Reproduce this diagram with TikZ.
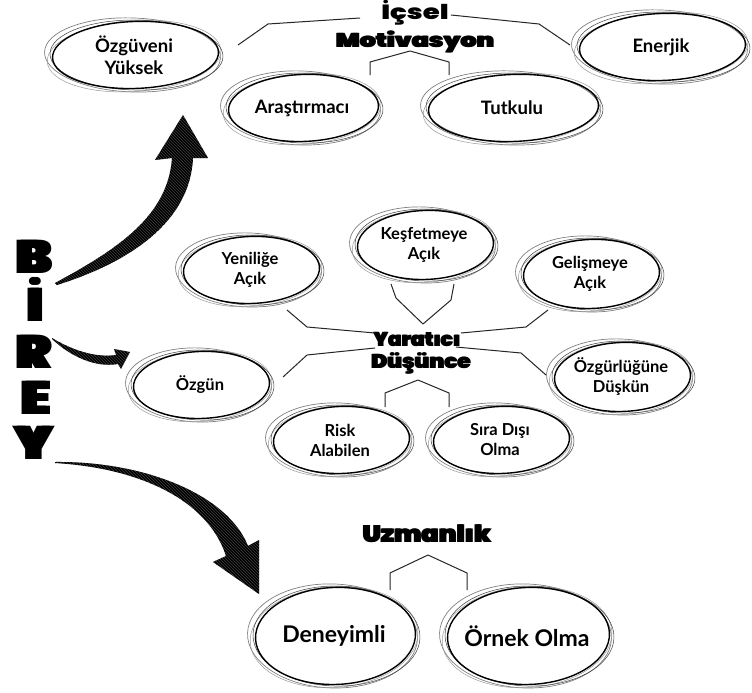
\documentclass[tikz,border=0pt]{standalone}
\usepackage{fontspec}
\setmainfont{Lato}
\newfontfamily\heavyfont{Poppins Black}
\usetikzlibrary{patterns}
\newcommand\fat[2]{\leavevmode\rlap{#2}\kern#1\relax #2}
\tikzset{
  etext/.style={align=center, inner sep=0pt, text=black},
  fa/.style={font=\bfseries\fontsize{18.5}{22}\selectfont},
  fb/.style={font=\bfseries\fontsize{16.5}{20}\selectfont},
  fc/.style={font=\bfseries\fontsize{23}{27}\selectfont},
  ttl/.style={anchor=base, inner sep=0pt, font=\heavyfont\fontsize{20}{24}\selectfont},
  letter/.style={anchor=base, inner sep=0pt, xscale=1.1, font=\heavyfont\fontsize{47}{50}\selectfont},
  conn/.style={line width=1pt, black!85, line join=round},
  arrowfill/.style={fill=black, postaction={pattern=north west lines, pattern color=white!25!black}}
}
\newcommand\skell[7]{%
  \node[etext,#7] (#1) at (#2,#3) {#6};
  \draw[line width=0.7pt, black!50, rotate around={-2:(#1.center)}] ([xshift=-1.5pt]#1.center) ellipse [x radius=#4pt, y radius=#5pt];
  \draw[line width=0.5pt, black!40, rotate around={4:(#1.center)}] ([yshift=-1pt]#1.center) ellipse [x radius=#4pt-1pt, y radius=#5pt-1.5pt];
  \draw[line width=0.5pt, black!75, rotate around={-1:(#1.center)}] ([xshift=2.5pt]#1.center) ellipse [x radius=#4pt-1.5pt, y radius=#5pt-2pt];
  \draw[line width=1.4pt, rotate around={2:(#1.center)}] ([xshift=1.5pt]#1.center) ellipse [x radius=#4pt-5pt, y radius=#5pt-3.5pt];
}
\begin{document}
\begin{tikzpicture}[x=1pt,y=-1pt]
\useasboundingbox (0,0) rectangle (752,693);
\fill[white] (0,0) rectangle (752,693);

% BIREY
\node[letter] (lb) at (34,273) {\fat{4pt}{B}};
\node[letter] (li) at (35,321) {\fat{3pt}{İ}};
\node[letter] (lr) at (34,368) {\fat{4pt}{R}};
\node[letter] (le) at (36,414) {\fat{4pt}{E}};
\node[letter] (ly) at (34,459) {\fat{4pt}{Y}};

% Icsel Motivasyon
\node[ttl, font=\heavyfont\fontsize{20.5}{24}\selectfont, xscale=1.34] (icsel) at (415,20) {İçsel};
\node[ttl, font=\heavyfont\fontsize{20}{24}\selectfont, xscale=1.26] (motiv) at (415,48) {\fat{1.2pt}{Motivasyon}};
\skell{ozguv}{134}{55}{88}{37}{Özgüveni\\Yüksek}{fa}
\skell{arast}{302}{108}{80}{37}{Araştırmacı}{fa}
\skell{tutku}{512}{108}{90}{37}{Tutkulu}{fa}
\skell{enerj}{661}{47}{88}{37}{Enerjik}{fa}
\draw[conn] (238,45) -- (268,24) -- (360,18);
\draw[conn] (451,15) -- (539,24) -- (570,45);
\draw[conn] (370,75) -- (370,62) -- (410,51) -- (449,62) -- (449,75);

% Yaratici Dusunce
\node[ttl, xscale=1.0] (yarat) at (417,346) {\fat{1.2pt}{Yaratıcı}};
\node[ttl, xscale=1.07] (dusun) at (421,368) {\fat{1.2pt}{Düşünce}};
\skell{yenil}{250}{270}{73}{37}{Yeniliğe\\Açık}{fb}
\skell{kesfe}{424}{245}{73}{38}{Keşfetmeye\\Açık}{fb}
\skell{gelis}{590}{274}{73}{38}{Gelişmeye\\Açık}{fb}
\skell{ozgun}{200}{385}{73}{37}{Özgün}{fb}
\skell{ozgur}{621}{377}{73}{38}{Özgürlüğüne\\Düşkün}{fb}
\skell{risk}{340}{440}{73}{37}{Risk\\Alabilen}{fb}
\skell{sira}{500}{440}{73}{37}{Sıra Dışı\\Olma}{fb}
\draw[conn] (391,284) -- (396,298) -- (423,324) -- (451,300) -- (454,284);
\draw[conn] (287,310) -- (307,327) -- (375,333);
\draw[conn] (283,377) -- (307,355) -- (375,348);
\draw[conn] (461,333) -- (526,327) -- (548,310);
\draw[conn] (456,347) -- (521,353) -- (546,375);
\draw[conn] (385,407) -- (385,393) -- (418,380) -- (449,393) -- (449,407);

% Uzmanlik
\node[ttl, font=\heavyfont\fontsize{24}{28}\selectfont, xscale=1.06] (uzman) at (427,542) {\fat{1.4pt}{Uzmanlık}};
\skell{deney}{334}{636}{85}{52}{Deneyimli}{fc}
\skell{ornek}{527}{636}{86}{52}{Örnek Olma}{fc}
\draw[conn] (390,590) -- (390,573) -- (428,555) -- (467,573) -- (467,590);

% arrows
\fill[arrowfill] (55,283) .. controls (120,248) and (168,215) .. (172,158) -- (155,160) -- (183,115) -- (208,158) -- (193,158) .. controls (190,222) and (130,262) .. (57,285) -- cycle;
\fill[arrowfill] (52,338) .. controls (72,350) and (95,358) .. (116,355) -- (114,349) -- (130,352) -- (121,369) -- (118,364) .. controls (95,368) and (70,356) .. (52,339) -- cycle;
\fill[arrowfill] (55,463) .. controls (140,468) and (208,500) .. (226,556) -- (213,562) -- (259,594) -- (259,540) -- (248,546) .. controls (228,495) and (145,461) .. (55,462) -- cycle;
\end{tikzpicture}
\end{document}
